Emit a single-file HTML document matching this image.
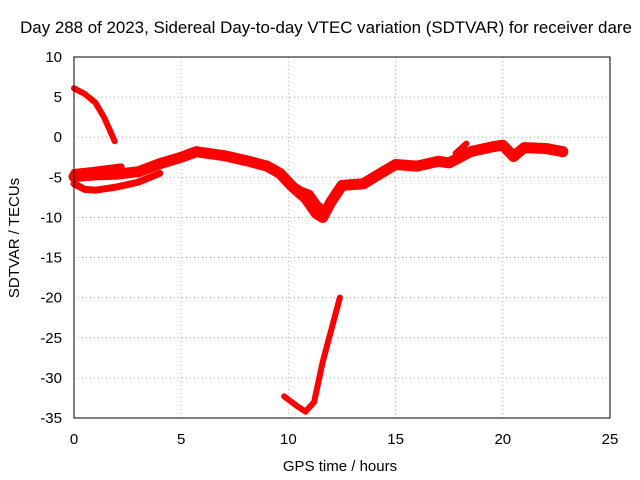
<!DOCTYPE html>
<html><head><meta charset="utf-8"><style>
body{margin:0;background:#fff}
svg{display:block;font-family:"Liberation Sans",sans-serif}
</style></head><body>
<svg id="c" width="640" height="480">
<text x="326" y="33" font-size="16.9" text-anchor="middle">Day 288 of 2023, Sidereal Day-to-day VTEC variation (SDTVAR) for receiver dare</text>
<text x="340" y="471" font-size="15" text-anchor="middle">GPS time / hours</text>
<text transform="translate(19,238) rotate(-90)" font-size="15" text-anchor="middle">SDTVAR / TECUs</text>
<g id="grid"></g><g id="marks"></g>
<rect x="74" y="57" width="536" height="361" fill="none" stroke="#000"/>
</svg>
<script>
const xTicks=[0,5,10,15,20,25];
const yTicks=[10,5,0,-5,-10,-15,-20,-25,-30,-35];
const seriesSteep=[[0,6.1],[0.5,5.4],[1,4.3],[1.4,2.5],[1.9,-0.5]];
const seriesUpper=[[0,-4.4],[1,-4.1],[2.2,-3.7]];
const seriesMain=[[0,-4.9],[1,-4.7],[2,-4.6],[3,-4.3],[4,-3.3],[5,-2.5],[5.7,-1.8],[7,-2.3],[8,-2.9],[9,-3.6],[9.6,-4.5],[10.2,-6.2],[10.8,-7.6],[11.3,-9.5],[11.6,-10],[12,-8],[12.5,-6],[13.5,-5.8],[14.3,-4.5],[15,-3.4],[16,-3.6],[17,-3],[17.5,-3.2],[18.5,-1.8],[19.5,-1.2],[20,-1],[20.5,-2.4],[21,-1.3],[22,-1.4],[22.8,-1.8]];
const seriesLower=[[0,-5.8],[0.5,-6.5],[1,-6.6],[2,-6.2],[3,-5.6],[4,-4.5]];
const seriesSpur=[[17.8,-2],[18.3,-0.8]];
const seriesDip=[[10,-5.6],[10.6,-6.6],[11,-7],[11.4,-8.5],[11.8,-9.2],[12.2,-7]];
const seriesLow=[[9.8,-32.3],[10.4,-33.5],[10.8,-34.2],[11.2,-33],[11.6,-28],[12,-24],[12.4,-20]];
const X=v=>74+v*536/25, Y=v=>57+(10-v)*361/45;
const NS="http://www.w3.org/2000/svg";
const g=document.getElementById('grid'), m=document.getElementById('marks');
function el(t,a,p){const e=document.createElementNS(NS,t);for(const k in a)e.setAttribute(k,a[k]);p.appendChild(e);return e;}
xTicks.forEach(v=>{
 if(v>0&&v<25){const l=el('line',{x1:X(v),x2:X(v),y1:57,y2:418,stroke:'#aaa','stroke-dasharray':'1,3'},g);
 
 }
 const t=el('text',{x:X(v),y:444,'font-size':15,'text-anchor':'middle'},g);t.textContent=v;
 
 
});
yTicks.forEach(v=>{
 if(v<10&&v>-35){const l=el('line',{x1:74,x2:610,y1:Y(v),y2:Y(v),stroke:'#aaa','stroke-dasharray':'1,3'},g);
 
 }
 const t=el('text',{x:62,y:Y(v)+5,'font-size':15,'text-anchor':'end'},g);t.textContent=v;
 
 
});
const widths=[6,7,11,7,6,7,6];
[seriesSteep,seriesUpper,seriesMain,seriesLower,seriesSpur,seriesDip,seriesLow].forEach((s,i)=>{
 const p=el('polyline',{points:s.map(d=>X(d[0])+','+Y(d[1])).join(' '),fill:'none',stroke:'#f00','stroke-width':widths[i],'stroke-linejoin':'round','stroke-linecap':'round'},m);
 
 
});
</script>
</body></html>
